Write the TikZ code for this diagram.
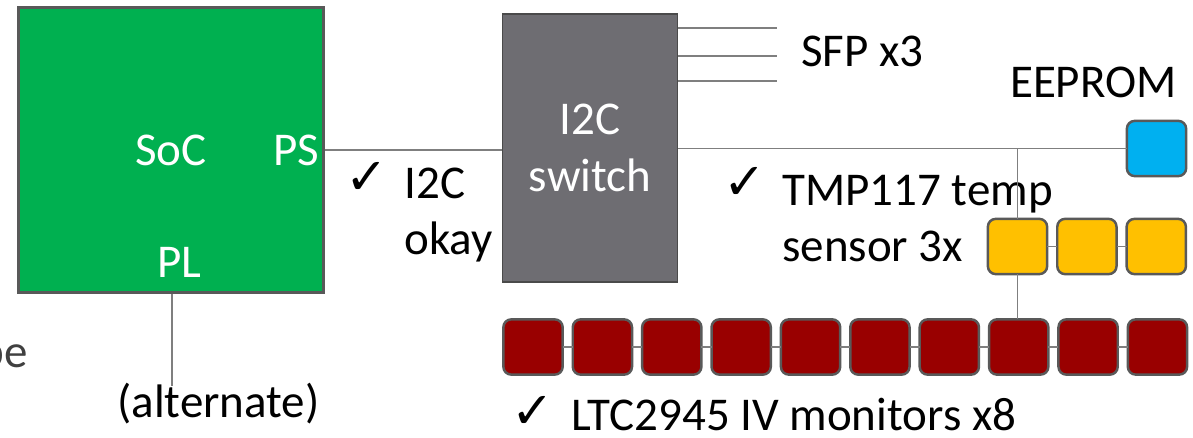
\documentclass[tikz,border=0pt]{standalone}
\usepackage{fontspec}
\setmainfont{Carlito}
\newfontfamily\tickfont{DejaVu Sans}
\usetikzlibrary{positioning}
\definecolor{socgreen}{HTML}{00B050}
\definecolor{swgray}{HTML}{6E6D72}
\definecolor{swedge}{HTML}{4A4A4A}
\definecolor{boxedge}{HTML}{595959}
\definecolor{wiregray}{HTML}{7F7F7F}
\definecolor{ltcred}{HTML}{990000}
\definecolor{tmpyellow}{HTML}{FFC000}
\definecolor{eeblue}{HTML}{00B0F0}
\definecolor{notegray}{HTML}{404040}

\begin{document}
\begin{tikzpicture}[
  x=0.02cm, y=-0.02cm,
  node distance=0.202cm,
  txt/.style={font=\fontsize{26.75}{32.4}\selectfont, inner sep=0pt, align=left, text=black},
  wtxt/.style={txt, text=white},
  tick/.style={font=\tickfont\fontsize{29}{32}\selectfont, inner sep=0pt},
  socbox/.style={draw=boxedge, line width=1.4pt, fill=socgreen, minimum width=6.1cm, minimum height=5.7cm, inner sep=0pt},
  swbox/.style={draw=swedge, line width=0.9pt, fill=swgray, minimum width=3.5cm, minimum height=5.36cm, inner sep=0pt, align=center, text=white, font=\fontsize{26.75}{32.4}\selectfont},
  chip/.style={draw=boxedge, line width=1.4pt, rounded corners=4.5pt, minimum width=1.186cm, minimum height=1.106cm, inner sep=0pt, outer sep=0pt},
  ltcbox/.style={chip, fill=ltcred},
  tmpbox/.style={chip, fill=tmpyellow},
  eebox/.style={chip, fill=eeblue},
  wire/.style={draw=wiregray, line width=1pt}
]
\useasboundingbox (0,0) rectangle (1193,438);

% SoC
\node[socbox] (soc) at (171,150) {};
\node[wtxt, anchor=base west] (soclbl) at (135,166) {SoC};
\node[wtxt, anchor=base west] (ps) at (273,166) {PS};
\node[wtxt, anchor=base west] (pl) at (157,278) {PL};

% Switch
\node[swbox] (sw) at (590,148) {I2C\\switch};

% EEPROM and temp sensors
\node[eebox] (ee) at (1156.5,148.5) {};
\node[tmpbox] (tmp1) at (1017.5,246.5) {};
\node[tmpbox, right=of tmp1] (tmp2) {};
\node[tmpbox, right=of tmp2] (tmp3) {};

% IV monitors
\node[ltcbox] (ltc1) at (533,347) {};
\node[ltcbox, right=of ltc1] (ltc2) {};
\node[ltcbox, right=of ltc2] (ltc3) {};
\node[ltcbox, right=of ltc3] (ltc4) {};
\node[ltcbox, right=of ltc4] (ltc5) {};
\node[ltcbox, right=of ltc5] (ltc6) {};
\node[ltcbox, right=of ltc6] (ltc7) {};
\node[ltcbox, right=of ltc7] (ltc8) {};
\node[ltcbox, right=of ltc8] (ltc9) {};
\node[ltcbox, right=of ltc9] (ltc10) {};

% Labels
\node[txt, anchor=base west] (sfp) at (801,67) {SFP x3};
\node[txt, anchor=base east] (eelbl) at (1177,98) {EEPROM};
\node[tick, anchor=base west] (tick1) at (345,195) {✓};
\node[txt, anchor=base west] (i2cok) at (404,255) {I2C\\okay};
\node[tick, anchor=base west] (tick2) at (723,200) {✓};
\node[txt, anchor=base west] (tmplbl) at (782,262) {TMP117 temp\\sensor 3x};
\node[tick, anchor=base west] (tick3) at (511,429) {✓};
\node[txt, anchor=base west] (ltclbl) at (571,431) {LTC2945 IV monitors x8};
\node[txt, anchor=base west] (alt) at (117,418) {(alternate)};
\node[txt, anchor=base east, text=notegray] (note) at (28,368) {be};

% Free ends
\coordinate (sfp1) at (777,28);
\coordinate (sfp2) at (777,56);
\coordinate (sfp3) at (777,81);
\coordinate (plend) at (172,386);

% Wires
\draw[wire] (soc.east) -- (soc.east -| sw.west);
\draw[wire] (sw.east |- sfp1) -- (sfp1);
\draw[wire] (sw.east |- sfp2) -- (sfp2);
\draw[wire] (sw.east |- sfp3) -- (sfp3);
\draw[wire] (sw.east |- ee.west) -- (ee.west);
\draw[wire] (tmp1.north |- ee.west) -- (tmp1.north);
\draw[wire] (tmp1.south) -- (tmp1.south |- ltc8.north);
\draw[wire] (tmp1) -- (tmp2);
\draw[wire] (tmp2) -- (tmp3);
\draw[wire] (ltc1) -- (ltc2);
\draw[wire] (ltc2) -- (ltc3);
\draw[wire] (ltc3) -- (ltc4);
\draw[wire] (ltc4) -- (ltc5);
\draw[wire] (ltc5) -- (ltc6);
\draw[wire] (ltc6) -- (ltc7);
\draw[wire] (ltc7) -- (ltc8);
\draw[wire] (ltc8) -- (ltc9);
\draw[wire] (ltc9) -- (ltc10);
\draw[wire] (soc.south -| plend) -- (plend);

\end{tikzpicture}
\end{document}
